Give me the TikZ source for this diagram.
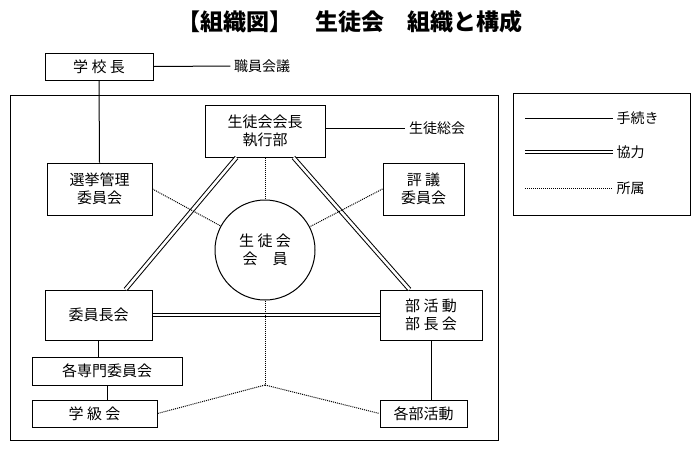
\documentclass[tikz,border=0pt]{standalone}
\usepackage{fontspec}
\setmainfont{Noto Sans CJK JP}
\usetikzlibrary{calc}
\begin{document}
\begin{tikzpicture}[x=1pt,y=-1pt,
    box/.style={draw,line width=1pt,align=center,inner sep=0pt,font=\fontsize{15}{18}\selectfont},
    lbl/.style={font=\fontsize{14}{16}\selectfont},
    coop/.style={double,double distance=2.6pt,line width=1pt},
    proc/.style={line width=1pt},
    memb/.style={densely dotted,line width=1pt}]
      \useasboundingbox (0,0) rectangle (700,451);
      \node[font=\fontsize{23}{26}\selectfont\bfseries] (title) at (350,22) {【組織図】　生徒会　組織と構成};
      \draw[line width=1pt] (10,95) rectangle (498,440);

      \node[box,minimum width=108,minimum height=27] (kocho) at (99,66.5) {学\ 校\ 長};
      \node[lbl] (shokuin) at (262,66) {職員会議};
      \node[box,minimum width=120,minimum height=52] (exec) at (265,131) {生徒会会長\\執行部};
      \node[lbl] (sokai) at (437,128) {生徒総会};
      \node[box,minimum width=105,minimum height=52] (senkyo) at (99.5,189) {選挙管理\\委員会};
      \node[box,minimum width=81,minimum height=52] (hyogi) at (423.5,189) {評\ 議\\委員会};
      \node[draw,line width=1pt,circle,minimum size=100,align=center,font=\fontsize{15}{18}\selectfont] (member) at (265,250) {生\ 徒\ 会\\会\quad 員};
      \node[box,minimum width=107,minimum height=50] (iincho) at (98.5,315) {委員長会};
      \node[box,minimum width=102,minimum height=50] (buchokai) at (431,315) {部\ 活\ 動\\部\ 長\ 会};
      \node[box,minimum width=150,minimum height=28] (senmon) at (107,371) {各専門委員会};
      \node[box,minimum width=125,minimum height=27] (gakkyu) at (94.5,413.5) {学\ 級\ 会};
      \node[box,minimum width=87,minimum height=27] (bukatsu) at (423.5,413.5) {各部活動};
      \coordinate (hub) at (265,385);

      % procedure lines
      \draw[proc] (kocho.east) -- (shokuin.west);
      \draw[proc] (kocho.south) -- (senkyo.north);
      \draw[proc] (exec.east |- sokai) -- (sokai.west);
      \draw[proc] (iincho.south) -- (iincho.south |- senmon.north);
      \draw[proc] (gakkyu.north -| senmon.south) -- (senmon.south);
      \draw[proc] (bukatsu.north -| buchokai.south) -- (buchokai.south);

      % cooperation
      \draw[coop] ($(exec.south west)+(32,0)$) -- ($(iincho.north east)+(-27,0)$);
      \draw[coop] ($(exec.south east)+(-32,0)$) -- ($(buchokai.north west)+(30,0)$);
      \draw[coop] (iincho.east) -- (buchokai.west);

      % membership
      \draw[memb] (senkyo.east) -- (member);
      \draw[memb] (hyogi.west) -- (member);
      \draw[memb] (exec.south) -- (member.north);
      \draw[memb] (member.south) -- (hub);
      \draw[memb] (hub) -- (gakkyu.east);
      \draw[memb] (hub) -- (bukatsu.west);

      % legend
      \draw[line width=1pt] (513,93) rectangle (690,215);
      \coordinate (l1) at (525,118);
      \coordinate (l2) at (525,152);
      \coordinate (l3) at (525,188);
      \node[lbl,anchor=west] (t1) at (613,118) {手続き};
      \node[lbl,anchor=west] (t2) at (613,152) {協力};
      \node[lbl,anchor=west] (t3) at (613,188) {所属};
      \draw[proc] (l1) -- (t1.west);
      \draw[coop] (l2) -- (t2.west);
      \draw[memb] (l3) -- (t3.west);
\end{tikzpicture}
\end{document}
